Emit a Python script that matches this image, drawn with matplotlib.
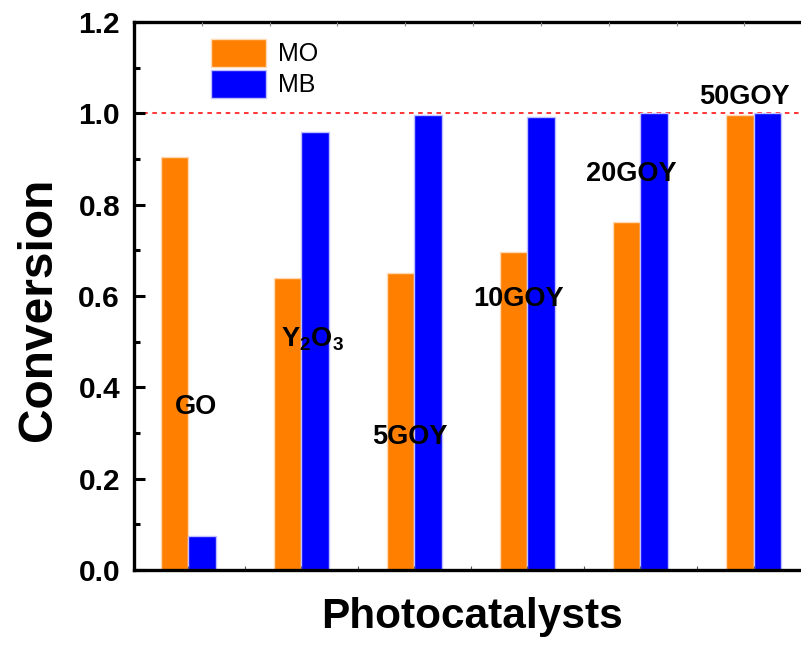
import numpy as np
import matplotlib
matplotlib.use("Agg")
import matplotlib.pyplot as plt

# data
catalysts = ["GO", r"Y$_\mathbf{2}$O$_\mathbf{3}$", "5GOY", "10GOY", "20GOY", "50GOY"]
mo_conv = [0.905, 0.639, 0.650, 0.697, 0.761, 0.996]
mb_conv = [0.074, 0.960, 0.996, 0.991, 1.000, 1.000]
label_x = [0.07, 1.10, 1.96, 2.92, 3.92, 4.92]
label_y = [0.357, 0.506, 0.291, 0.593, 0.867, 1.036]

plt.rcParams["font.family"] = ["Liberation Sans", "DejaVu Sans"]
plt.rcParams["mathtext.fontset"] = "custom"
plt.rcParams["mathtext.rm"] = "Liberation Sans:bold"
plt.rcParams["mathtext.bf"] = "Liberation Sans:bold"

fig = plt.figure(figsize=(8.01, 6.45), dpi=100)
ax = fig.add_axes([0.1673, 0.1163, 0.844, 0.8496])

x = np.arange(len(catalysts))
w = 0.245
ax.bar(x - w / 2, mo_conv, w, color="#ff8000", edgecolor="#ffd9b3", linewidth=1, label="MO")
ax.bar(x + w / 2, mb_conv, w, color="#0000ff", edgecolor="#c0c0ff", linewidth=1, label="MB")

ax.axhline(1.0, color="#ff0000", linestyle=(0, (3, 3)), linewidth=1.1, zorder=0)

for xi, yi, name in zip(label_x, label_y, catalysts):
    ax.text(xi, yi, name, ha="center", va="center", fontsize=19.5, fontweight="bold")

ax.set_xlim(-0.48, 5.5)
ax.set_ylim(0, 1.2)
ax.set_yticks(np.arange(0, 1.21, 0.2))
ax.set_yticks(np.arange(0.1, 1.2, 0.2), minor=True)
ax.set_yticklabels([f"{v:.1f}" for v in np.arange(0, 1.21, 0.2)])
ax.set_xticks(np.arange(0, 5.6, 0.5))
ax.set_xticklabels([])

ax.tick_params(axis="y", which="major", direction="in", length=8, width=2.2,
               labelsize=21.5, pad=10)
ax.tick_params(axis="y", which="minor", direction="in", length=4, width=2.2)
ax.tick_params(axis="x", direction="in", length=3, width=0.8, color="#555555")
for lab in ax.get_yticklabels():
    lab.set_fontweight("bold")

for side in ["left", "top", "bottom"]:
    ax.spines[side].set_linewidth(2.4)
ax.spines["right"].set_visible(False)

# thin ticks along the top axis
top = ax.twiny()
top.set_xlim(ax.get_xlim())
top.set_xticks(-0.48 + 0.6 * np.arange(1, 10))
top.set_xticklabels([])
top.tick_params(axis="x", direction="in", length=3, width=0.8, color="#888888")
for s in top.spines.values():
    s.set_visible(False)

ax.set_ylabel("Conversion", fontsize=34.5, fontweight="bold")
ax.yaxis.set_label_coords(-0.108, 0.476)
ax.set_xlabel("Photocatalysts", fontsize=30.5, fontweight="bold", labelpad=16)

ax.legend(loc="upper left", bbox_to_anchor=(0.08, 1.01), frameon=False,
          fontsize=18, handlelength=2.2, handleheight=1.35, labelspacing=0.1,
          handletextpad=0.5)

fig.savefig("out.png", dpi=100)
